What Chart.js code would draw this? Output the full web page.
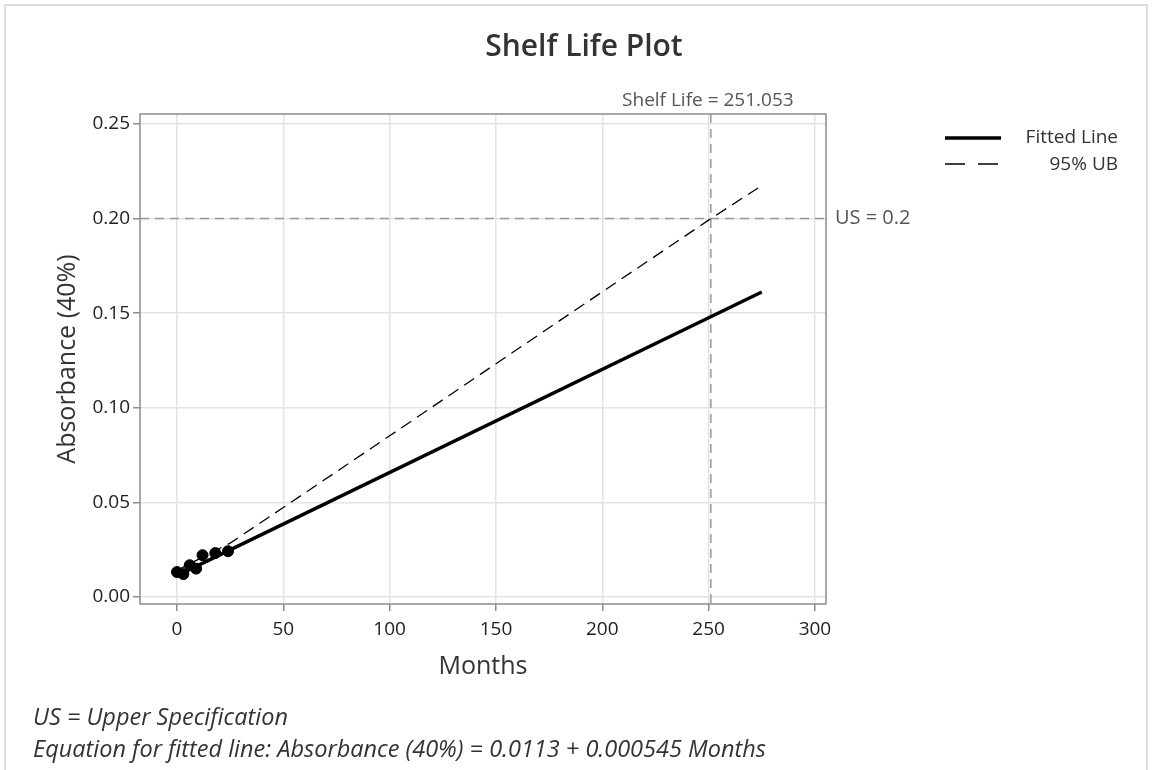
<!DOCTYPE html>
<html>
<head>
<meta charset="utf-8">
<script src="https://cdn.jsdelivr.net/npm/chart.js@4/dist/chart.umd.min.js"></script>
<style>
  html, body { margin: 0; padding: 0; background: #fff; }
  #wrap { position: relative; width: 1152px; height: 770px; overflow: hidden; }
  #frame { position: absolute; left: 4px; top: 4px; width: 1144px; height: 780px; border: 2px solid #ddd; box-sizing: border-box; }
  canvas { position: absolute; left: 0; top: 0; }
  .note { position: absolute; left: 33px; font-family: "Open Sans", sans-serif; font-style: italic; font-size: 23.5px; color: #333; white-space: nowrap; }
</style>
</head>
<body>
<div id="wrap">
  <div id="frame"></div>
  <canvas id="shelfChart" width="1152" height="770"></canvas>
  <div class="note" style="top:700px;">US = Upper Specification</div>
  <div class="note" style="top:732px;">Equation for fitted line: Absorbance (40%) = 0.0113 + 0.000545 Months</div>
</div>
<script>
// Observed stability data (months vs absorbance)
const months = [0, 3, 6, 9, 12, 18, 24];
const absorbance = [0.0132, 0.0121, 0.0168, 0.0150, 0.0221, 0.0232, 0.0242];

// Fitted line end points
const fitMonths = [0, 275];
const fitValues = [0.0113, 0.1612];

// 95% upper bound
const ubMonths = [0, 25, 50, 100, 150, 200, 250, 275];
const ubValues = [0.0141, 0.0285, 0.0473, 0.0852, 0.1233, 0.1613, 0.1992, 0.2175];

// Reference values
const upperSpec = 0.2;
const shelfLife = 251.053;

// Tick labels
const xTicks = [0, 50, 100, 150, 200, 250, 300];
const yTicks = [0, 0.05, 0.10, 0.15, 0.20, 0.25];

const toPoints = (xs, ys) => xs.map((x, i) => ({ x: x, y: ys[i] }));

const FONT = '"Open Sans", sans-serif';

// Box, reference lines, labels, title and legend
const decorPlugin = {
  id: 'decor',
  beforeDatasetsDraw(chart) {
    const { ctx, chartArea: a, scales: { x, y } } = chart;
    ctx.save();
    ctx.strokeStyle = '#9a9a9a';
    ctx.lineWidth = 1.5;
    ctx.setLineDash([9, 6]);
    const yUS = y.getPixelForValue(upperSpec);
    ctx.beginPath();
    ctx.moveTo(a.left, yUS);
    ctx.lineTo(a.right, yUS);
    ctx.stroke();
    const xSL = x.getPixelForValue(shelfLife);
    ctx.beginPath();
    ctx.moveTo(xSL, a.top);
    ctx.lineTo(xSL, a.bottom);
    ctx.stroke();
    ctx.restore();
  },
  afterDraw(chart) {
    const { ctx, chartArea: a, scales: { x, y } } = chart;
    ctx.save();
    // plot box
    ctx.strokeStyle = '#8c8c8c';
    ctx.lineWidth = 1.5;
    ctx.strokeRect(a.left, a.top, a.right - a.left, a.bottom - a.top);

    ctx.fillStyle = '#555';
    ctx.textBaseline = 'middle';
    ctx.textAlign = 'left';
    ctx.font = '20px ' + FONT;
    ctx.fillText('US = ' + upperSpec, a.right + 9, y.getPixelForValue(upperSpec));
    ctx.textAlign = 'center';
    ctx.font = '19px ' + FONT;
    ctx.fillText('Shelf Life = ' + shelfLife.toFixed(3), x.getPixelForValue(shelfLife) - 3, 101);

    // title
    ctx.fillStyle = '#333';
    ctx.font = '600 30px ' + FONT;
    ctx.fillText('Shelf Life Plot', 584, 47);

    // legend
    ctx.strokeStyle = '#000';
    ctx.lineWidth = 3.5;
    ctx.beginPath();
    ctx.moveTo(945, 138);
    ctx.lineTo(1001, 138);
    ctx.stroke();
    ctx.lineWidth = 1.5;
    ctx.setLineDash([20, 13]);
    ctx.beginPath();
    ctx.moveTo(945, 164);
    ctx.lineTo(1001, 164);
    ctx.stroke();
    ctx.setLineDash([]);
    ctx.fillStyle = '#333';
    ctx.font = '500 19px ' + FONT;
    ctx.textAlign = 'right';
    ctx.fillText('Fitted Line', 1118, 138);
    ctx.fillText('95% UB', 1118, 165);
    ctx.restore();
  }
};

const fixedTicks = (vals) => (scale) => { scale.ticks = vals.map(v => ({ value: v })); };

new Chart(document.getElementById('shelfChart'), {
  type: 'scatter',
  data: {
    datasets: [
      {
        label: 'Fitted Line',
        type: 'line',
        data: toPoints(fitMonths, fitValues),
        borderColor: '#000',
        borderWidth: 3.5,
        pointRadius: 0,
        fill: false
      },
      {
        label: '95% UB',
        type: 'line',
        data: toPoints(ubMonths, ubValues),
        borderColor: '#000',
        borderWidth: 1.3,
        borderDash: [12, 7],
        pointRadius: 0,
        fill: false,
        tension: 0
      },
      {
        label: 'Data',
        data: toPoints(months, absorbance),
        backgroundColor: '#000',
        borderColor: '#000',
        pointRadius: 5.5
      }
    ]
  },
  options: {
    responsive: false,
    animation: false,
    layout: { padding: { left: 0, top: 114, right: 326, bottom: 86 } },
    plugins: { legend: { display: false }, tooltip: { enabled: false } },
    scales: {
      x: {
        type: 'linear',
        min: -17.4,
        max: 305.2,
        afterBuildTicks: fixedTicks(xTicks),
        afterFit: (s) => { s.height = 80; },
        border: { display: false },
        grid: { color: '#e3e3e3', lineWidth: 1.5, tickLength: 7, tickColor: '#8c8c8c' },
        ticks: { color: '#222', font: { family: FONT, size: 19, weight: 500 }, padding: 7, maxRotation: 0 },
        title: { display: true, text: 'Months', color: '#333', font: { family: FONT, size: 25, weight: 500 }, padding: { top: 0, bottom: 2 } }
      },
      y: {
        type: 'linear',
        min: -0.0037,
        max: 0.2553,
        afterBuildTicks: fixedTicks(yTicks),
        afterFit: (s) => { s.width = 140; },
        border: { display: false },
        grid: { color: '#e3e3e3', lineWidth: 1.5, tickLength: 7, tickColor: '#8c8c8c' },
        ticks: { color: '#222', font: { family: FONT, size: 19, weight: 500 }, padding: 3, callback: (v) => v.toFixed(2) },
        title: { display: true, text: 'Absorbance (40%)', color: '#333', font: { family: FONT, size: 25, weight: 500 }, padding: { top: 53, bottom: 0 } }
      }
    }
  },
  plugins: [decorPlugin]
});
</script>
</body>
</html>
